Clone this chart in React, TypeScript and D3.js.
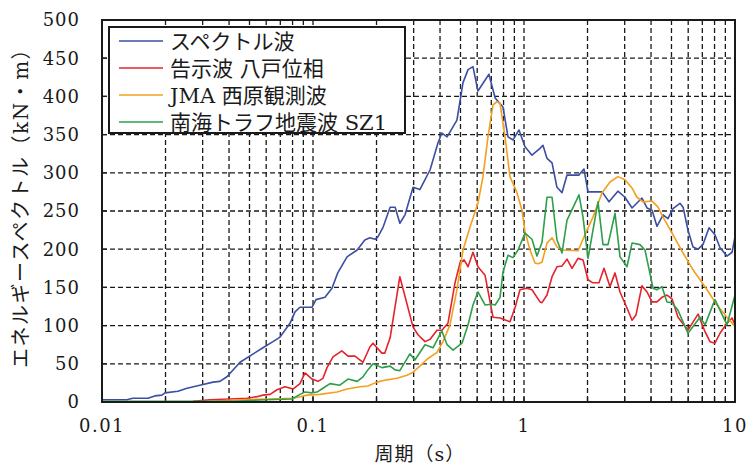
import React from "react";
import * as d3 from "d3";

// 周期 (s) と エネルギースペクトル (kN・m)
const spectrumPeriod = [0.01, 0.0131, 0.014, 0.0165, 0.0178, 0.0192, 0.0199, 0.0229, 0.0253, 0.0291, 0.0336, 0.0362, 0.0391, 0.0451, 0.0579, 0.0646, 0.0698, 0.0778, 0.0822, 0.0867, 0.0989, 0.1033, 0.114, 0.123, 0.131, 0.145, 0.162, 0.176, 0.186, 0.197, 0.203, 0.215, 0.232, 0.245, 0.258, 0.273, 0.298, 0.321, 0.359, 0.391, 0.408, 0.432, 0.481, 0.514, 0.543, 0.573, 0.605, 0.682, 0.73, 0.795, 0.84, 0.887, 0.947, 1.011, 1.091, 1.191, 1.23, 1.285, 1.358, 1.433, 1.514, 1.599, 1.823, 1.923, 2.011, 2.344, 2.529, 2.786, 3.01, 3.251, 3.622, 3.828, 4.046, 4.266, 4.56, 4.809, 5.082, 5.483, 5.675, 5.984, 6.324, 6.683, 7.047, 7.534, 8.035, 8.492, 9.162, 9.683, 10];
const spectrumValue = [3, 3, 5, 5, 8, 9, 12, 14, 18, 22, 26, 27, 33, 52, 71, 79, 85, 103, 118, 124, 124, 134, 137, 149, 169, 190, 199, 212, 215, 213, 216, 229, 255, 255, 234, 245, 281, 278, 304, 339, 352, 347, 369, 418, 435, 439, 407, 429, 398, 386, 347, 343, 356, 334, 323, 332, 336, 319, 313, 281, 274, 297, 297, 305, 275, 275, 262, 276, 268, 254, 267, 254, 251, 230, 245, 240, 253, 260, 255, 225, 203, 200, 206, 228, 219, 202, 191, 196, 216];

const hachinohePeriod = [0.027, 0.0325, 0.0404, 0.0487, 0.0543, 0.0579, 0.0626, 0.0675, 0.0737, 0.0804, 0.0867, 0.0917, 0.0989, 0.1056, 0.1115, 0.1165, 0.1244, 0.137, 0.1465, 0.158, 0.1726, 0.186, 0.1925, 0.212, 0.219, 0.232, 0.258, 0.298, 0.3145, 0.3395, 0.359, 0.387, 0.408, 0.436, 0.471, 0.4975, 0.52, 0.543, 0.573, 0.605, 0.6535, 0.713, 0.77, 0.858, 0.906, 0.957, 1.033, 1.091, 1.191, 1.217, 1.285, 1.358, 1.433, 1.514, 1.599, 1.689, 1.803, 1.904, 2.011, 2.123, 2.267, 2.394, 2.556, 2.7, 2.851, 3.077, 3.251, 3.395, 3.622, 3.828, 4.046, 4.266, 4.508, 4.761, 5.028, 5.37, 5.984, 6.683, 7.208, 7.613, 8.035, 8.492, 9.162, 9.683, 10];
const hachinoheValue = [1, 3, 4, 5, 7, 9, 10, 16, 20, 17, 24, 38, 30, 27, 31, 45, 59, 67, 60, 60, 52, 72, 77, 64, 64, 84, 164, 98, 88, 79, 82, 94, 94, 103, 156, 182, 186, 177, 196, 177, 166, 111, 110, 105, 123, 147, 149, 147, 131, 130, 140, 164, 177, 178, 187, 175, 188, 186, 160, 156, 156, 175, 151, 169, 144, 123, 107, 114, 152, 144, 131, 131, 137, 140, 135, 111, 94, 115, 92, 79, 77, 90, 103, 110, 101];

const jmaPeriod = [0.0325, 0.0451, 0.0626, 0.0804, 0.0937, 0.1079, 0.13, 0.145, 0.167, 0.182, 0.201, 0.224, 0.25, 0.279, 0.298, 0.321, 0.347, 0.387, 0.413, 0.446, 0.481, 0.514, 0.555, 0.605, 0.639, 0.675, 0.713, 0.745, 0.77, 0.813, 0.858, 0.926, 0.978, 1.011, 1.068, 1.127, 1.165, 1.217, 1.285, 1.358, 1.433, 1.514, 1.803, 1.946, 2.123, 2.344, 2.556, 2.786, 3.01, 3.251, 3.432, 3.664, 4.046, 4.317, 4.56, 5.082, 5.675, 6.324, 7.368, 8.216, 9.162, 10];
const jmaValue = [1, 3, 4, 5, 9, 10, 13, 17, 20, 21, 26, 29, 31, 35, 39, 47, 56, 65, 79, 101, 147, 199, 229, 260, 295, 347, 389, 393, 391, 347, 295, 274, 251, 223, 199, 182, 181, 183, 208, 215, 203, 199, 198, 219, 242, 274, 288, 295, 291, 280, 268, 262, 263, 255, 242, 219, 195, 173, 147, 127, 111, 99];

const nankaiPeriod = [0.01, 0.0418, 0.0605, 0.0795, 0.0867, 0.0917, 0.0989, 0.1045, 0.1115, 0.1204, 0.134, 0.1465, 0.162, 0.1726, 0.182, 0.1925, 0.212, 0.232, 0.245, 0.258, 0.288, 0.304, 0.3395, 0.3705, 0.408, 0.432, 0.461, 0.5085, 0.543, 0.573, 0.605, 0.6535, 0.705, 0.73, 0.77, 0.795, 0.84, 0.887, 0.937, 1.011, 1.091, 1.152, 1.217, 1.285, 1.358, 1.433, 1.514, 1.599, 1.823, 1.904, 2.011, 2.123, 2.243, 2.368, 2.501, 2.7, 2.851, 3.077, 3.251, 3.546, 3.745, 4.088, 4.266, 4.508, 4.761, 5.028, 5.37, 5.984, 6.825, 7.208, 8.035, 9.162, 10];
const nankaiValue = [1, 1, 3, 4, 10, 13, 12, 13, 18, 24, 22, 30, 27, 33, 42, 50, 45, 47, 42, 41, 63, 55, 75, 71, 93, 75, 68, 77, 101, 127, 144, 127, 128, 127, 137, 170, 192, 189, 199, 221, 213, 191, 209, 268, 268, 212, 195, 238, 271, 242, 188, 225, 262, 206, 206, 247, 190, 177, 208, 206, 199, 149, 147, 151, 131, 130, 120, 90, 111, 101, 134, 101, 140];

const seriesNames = ["スペクトル波", "告示波 八戸位相", "JMA 西原観測波", "南海トラフ地震波 SZ1"];
const seriesColors = ["#3c4ea3", "#e4232b", "#f59f1f", "#2f9e48"];

const yTicks = [0, 50, 100, 150, 200, 250, 300, 350, 400, 450, 500];
const xTickLabels = ["0.01", "0.1", "1", "10"];
const xLabelValues = [0.01, 0.1, 1, 10];

const W = 750;
const H = 468;
const plot = { left: 102, right: 735, top: 20, bottom: 402 };

const serif = "'DejaVu Serif', 'Liberation Serif', serif";
const jp = "'DejaVu Serif', 'Noto Sans CJK JP', sans-serif";

export default function App() {
  const x = d3.scaleLog().domain([0.01, 10]).range([plot.left, plot.right]);
  const y = d3.scaleLinear().domain([0, 500]).range([plot.bottom, plot.top]);

  const periods = [spectrumPeriod, hachinohePeriod, jmaPeriod, nankaiPeriod];
  const values = [spectrumValue, hachinoheValue, jmaValue, nankaiValue];

  const line = d3
    .line<[number, number]>()
    .x((d) => x(d[0]))
    .y((d) => y(d[1]));

  // vertical grid at every log tick between the ends
  const logTicks: number[] = [];
  [0.01, 0.1, 1].forEach((dec) => {
    for (let k = 1; k <= 9; k++) logTicks.push(+(dec * k).toPrecision(3));
  });
  const innerX = logTicks.filter((t) => t > 0.01 && t < 10);

  return (
    <svg
      width={W}
      height={H}
      style={{ position: "absolute", left: 0, top: 0, background: "#fff" }}
    >
      <rect x={0} y={0} width={W} height={H} fill="#fff" />

      {/* grid */}
      <g stroke="#1a1a1a" strokeWidth={1.3} strokeDasharray="5,3" fill="none">
        {innerX.map((t) => (
          <line key={"gx" + t} x1={x(t)} x2={x(t)} y1={plot.top} y2={plot.bottom} />
        ))}
        {yTicks
          .filter((t) => t > 0 && t < 500)
          .map((t) => (
            <line key={"gy" + t} x1={plot.left} x2={plot.right} y1={y(t)} y2={y(t)} />
          ))}
      </g>

      {/* inner ticks */}
      <g stroke="#1a1a1a" strokeWidth={1.3}>
        {yTicks.map((t) => (
          <line key={"ty" + t} x1={plot.left} x2={plot.left + 5} y1={y(t)} y2={y(t)} />
        ))}
        {innerX.map((t) => (
          <line key={"tx" + t} x1={x(t)} x2={x(t)} y1={plot.bottom} y2={plot.bottom - 5} />
        ))}
      </g>

      {/* series */}
      <g fill="none" strokeWidth={1.6} strokeLinejoin="round">
        {periods.map((ps, i) => {
          const pts = ps.map((p, j) => [p, values[i][j]] as [number, number]);
          return <path key={"s" + i} d={line(pts) || ""} stroke={seriesColors[i]} />;
        })}
      </g>

      {/* frame */}
      <rect
        x={plot.left}
        y={plot.top}
        width={plot.right - plot.left}
        height={plot.bottom - plot.top}
        fill="none"
        stroke="#1a1a1a"
        strokeWidth={2}
      />

      {/* y tick labels */}
      <g fontFamily={serif} fontSize={18} fill="#1a1a1a" textAnchor="end">
        {yTicks.map((t) => (
          <text key={"ly" + t} x={80} y={y(t)} dy="0.36em" letterSpacing={1}>
            {t}
          </text>
        ))}
      </g>

      {/* x tick labels */}
      <g fontFamily={serif} fontSize={18} fill="#1a1a1a" textAnchor="middle">
        {xLabelValues.map((v, i) => (
          <text key={"lx" + i} x={x(v)} y={432} letterSpacing={1.5}>
            {xTickLabels[i]}
          </text>
        ))}
      </g>

      {/* axis titles */}
      <text
        x={420}
        y={461}
        textAnchor="middle"
        fontFamily={jp}
        fontSize={19}
        fill="#1a1a1a"
        letterSpacing={1}
      >
        周期（s）
      </text>
      <text
        transform="translate(28,203) rotate(-90)"
        textAnchor="middle"
        fontFamily={jp}
        fontSize={20}
        fill="#1a1a1a"
        letterSpacing={1.5}
      >
        エネルギースペクトル（kN・m）
      </text>

      {/* legend */}
      <g>
        <rect x={109} y={27} width={296} height={106} fill="#fff" stroke="#1a1a1a" strokeWidth={2} />
        {seriesNames.map((name, i) => {
          const cy = 41 + i * 27;
          return (
            <g key={"lg" + i}>
              <line x1={119} x2={163} y1={cy} y2={cy} stroke={seriesColors[i]} strokeWidth={1.6} />
              <text x={170} y={cy} dy="0.36em" fontFamily={jp} fontSize={21} fill="#1a1a1a">
                {name}
              </text>
            </g>
          );
        })}
      </g>
    </svg>
  );
}
